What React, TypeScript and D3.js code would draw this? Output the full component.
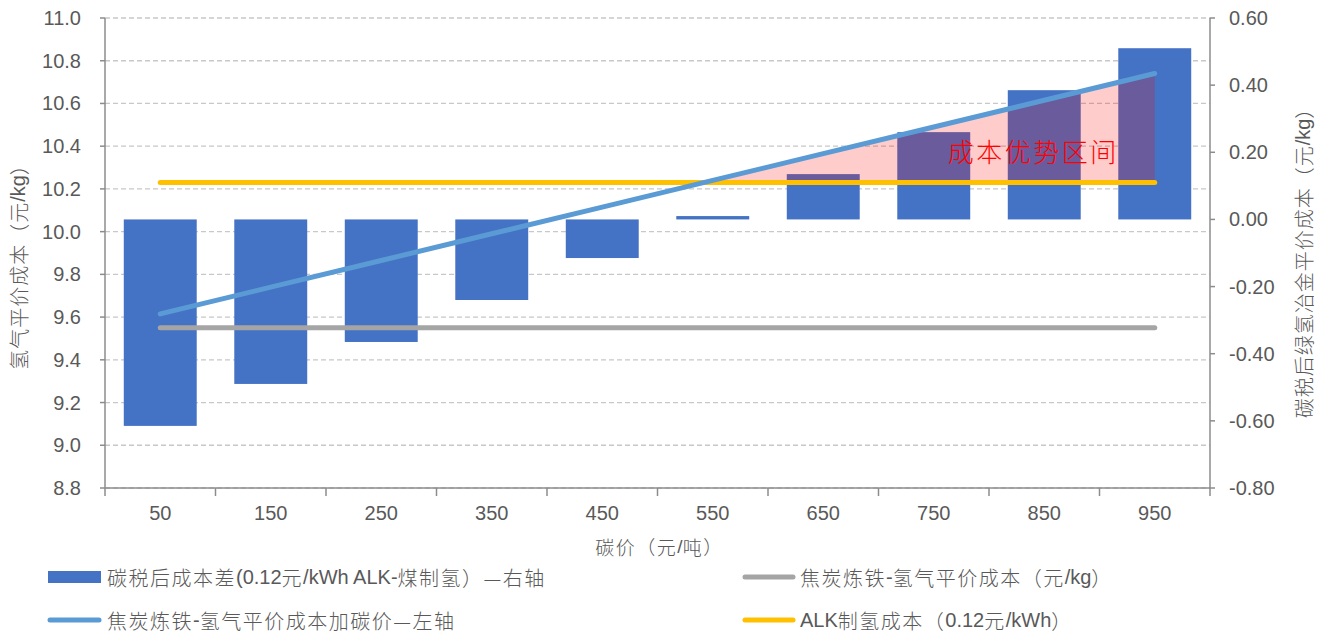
import React from "react";
import * as d3 from "d3";

// Carbon price categories (元/吨)
const carbonPrices = ["50", "150", "250", "350", "450", "550", "650", "750", "850", "950"];
// 碳税后成本差 (right axis, 元/kg)
const costGap = [-0.615, -0.49, -0.365, -0.24, -0.115, 0.01, 0.135, 0.26, 0.385, 0.51];
// 焦炭炼铁-氢气平价成本加碳价 (left axis, 元/kg)
const parityWithCarbon = [9.615, 9.74, 9.865, 9.99, 10.115, 10.24, 10.365, 10.49, 10.615, 10.74];
// 焦炭炼铁-氢气平价成本 (left axis, 元/kg)
const parityCost = [9.55, 9.55, 9.55, 9.55, 9.55, 9.55, 9.55, 9.55, 9.55, 9.55];
// ALK制氢成本 (0.12元/kWh, left axis)
const alkCost = [10.23, 10.23, 10.23, 10.23, 10.23, 10.23, 10.23, 10.23, 10.23, 10.23];

const leftTicks = [8.8, 9.0, 9.2, 9.4, 9.6, 9.8, 10.0, 10.2, 10.4, 10.6, 10.8, 11.0];
const rightTicks = [-0.8, -0.6, -0.4, -0.2, 0, 0.2, 0.4, 0.6];

const W = 1325;
const H = 635;
const PL = 105;
const PR = 1210;
const PT = 18;
const PB = 488;

const NUM_FONT = "'Liberation Sans', Arial, 'Noto Sans CJK SC', sans-serif";
const CJK_FONT = "'Noto Sans CJK SC', sans-serif";
const TEXT_COLOR = "#595959";
const AXIS_COLOR = "#8c8c8c";
const BAR_COLOR = "#4472C4";
const BLUE_LINE = "#5B9BD5";
const GRAY_LINE = "#A5A5A5";
const YELLOW_LINE = "#FFC000";

const CJK_RE = /[\u2014\u3000-\u303f\u4e00-\u9fff\uff00-\uffef]+/g;

// Renders a string with extra spacing on its CJK runs only
function MixedText(props: {
  text: string;
  x: number;
  y: number;
  size: number;
  cjkSpacing: number;
  anchor?: string;
  transform?: string;
  fill?: string;
}) {
  const { text, x, y, size, cjkSpacing, anchor, transform, fill } = props;
  const parts: { s: string; cjk: boolean }[] = [];
  let last = 0;
  text.replace(CJK_RE, (m: string, idx: number) => {
    if (idx > last) parts.push({ s: text.slice(last, idx), cjk: false });
    parts.push({ s: m, cjk: true });
    last = idx + m.length;
    return m;
  });
  if (last < text.length) parts.push({ s: text.slice(last), cjk: false });
  return (
    <text
      x={x}
      y={y}
      fontSize={size}
      fontFamily={NUM_FONT}
      fill={fill ?? TEXT_COLOR}
      textAnchor={anchor ?? "start"}
      dominantBaseline="central"
      transform={transform}
    >
      {parts.map((p, i) => (
        <tspan
          key={i}
          letterSpacing={p.cjk ? cjkSpacing : 0}
          fontFamily={p.cjk ? CJK_FONT : NUM_FONT}
          fontWeight={p.cjk ? 300 : 400}
        >
          {p.s}
        </tspan>
      ))}
    </text>
  );
}

export default function App() {
  const x = d3
    .scaleBand<string>()
    .domain(carbonPrices)
    .range([PL, PR])
    .paddingInner(0.34)
    .paddingOuter(0.17);
  const step = x.step();
  const cx = (i: number) => (x(carbonPrices[i]) as number) + x.bandwidth() / 2;

  const yL = d3.scaleLinear().domain([8.8, 11]).range([PB, PT]);
  const yR = d3.scaleLinear().domain([-0.8, 0.6]).range([PB, PT]);

  const lineGen = d3
    .line<number>()
    .x((_, i) => cx(i))
    .y((d) => yL(d));

  // Shaded advantage region: where the carbon-adjusted parity cost exceeds ALK cost
  type Pt = { x: number; top: number; base: number };
  const areaPts: Pt[] = [];
  for (let i = 0; i < carbonPrices.length; i++) {
    const diff = parityWithCarbon[i] - alkCost[i];
    if (i > 0) {
      const prev = parityWithCarbon[i - 1] - alkCost[i - 1];
      if (prev < 0 && diff >= 0) {
        const t = -prev / (diff - prev);
        const base = alkCost[i - 1] + t * (alkCost[i] - alkCost[i - 1]);
        areaPts.push({ x: cx(i - 1) + t * (cx(i) - cx(i - 1)), top: base, base });
      }
    }
    if (diff >= 0) areaPts.push({ x: cx(i), top: parityWithCarbon[i], base: alkCost[i] });
  }
  const areaGen = d3
    .area<Pt>()
    .x((d) => d.x)
    .y0((d) => yL(d.base))
    .y1((d) => yL(d.top));

  const boundaries = d3.range(carbonPrices.length + 1).map((k) => PL + k * step);

  return (
    <svg
      width={W}
      height={H}
      style={{ position: "absolute", left: 0, top: 0, background: "#fff" }}
    >
      <rect x={0} y={0} width={W} height={H} fill="#fff" />

      {/* gridlines */}
      {leftTicks.map((t) => (
        <line
          key={"g" + t}
          x1={PL}
          x2={PR}
          y1={yL(t)}
          y2={yL(t)}
          stroke="#c8c8c8"
          strokeWidth={1.3}
          strokeDasharray="5,3"
        />
      ))}

      {/* bars */}
      {costGap.map((v, i) => (
        <rect
          key={"b" + i}
          x={x(carbonPrices[i])}
          width={x.bandwidth()}
          y={yR(Math.max(0, v))}
          height={Math.abs(yR(v) - yR(0))}
          fill={BAR_COLOR}
        />
      ))}

      {/* advantage region */}
      <path d={areaGen(areaPts) ?? ""} fill="#ff0000" fillOpacity={0.2} />

      {/* lines */}
      <path
        d={lineGen(parityCost) ?? ""}
        fill="none"
        stroke={GRAY_LINE}
        strokeWidth={5}
        strokeLinecap="round"
      />
      <path
        d={lineGen(alkCost) ?? ""}
        fill="none"
        stroke={YELLOW_LINE}
        strokeWidth={5}
        strokeLinecap="round"
      />
      <path
        d={lineGen(parityWithCarbon) ?? ""}
        fill="none"
        stroke={BLUE_LINE}
        strokeWidth={5}
        strokeLinecap="round"
      />

      {/* axes */}
      <line x1={PL} x2={PL} y1={PT} y2={PB} stroke={AXIS_COLOR} strokeWidth={1.5} />
      <line x1={PR} x2={PR} y1={PT} y2={PB} stroke={AXIS_COLOR} strokeWidth={1.5} />
      <line x1={PL} x2={PR} y1={PB} y2={PB} stroke={AXIS_COLOR} strokeWidth={1.5} />

      {leftTicks.map((t) => (
        <g key={"lt" + t}>
          <line x1={PL - 5} x2={PL} y1={yL(t)} y2={yL(t)} stroke={AXIS_COLOR} strokeWidth={1.5} />
          <text
            x={PL - 24}
            y={yL(t)}
            textAnchor="end"
            dominantBaseline="central"
            fontSize={20}
            fontFamily={NUM_FONT}
            fill={TEXT_COLOR}
          >
            {t.toFixed(1)}
          </text>
        </g>
      ))}

      {rightTicks.map((t) => (
        <g key={"rt" + t}>
          <line x1={PR} x2={PR + 5} y1={yR(t)} y2={yR(t)} stroke={AXIS_COLOR} strokeWidth={1.5} />
          <text
            x={PR + 19}
            y={yR(t)}
            textAnchor="start"
            dominantBaseline="central"
            fontSize={20}
            fontFamily={NUM_FONT}
            fill={TEXT_COLOR}
          >
            {t.toFixed(2)}
          </text>
        </g>
      ))}

      {boundaries.map((bx, k) => (
        <line key={"xt" + k} x1={bx} x2={bx} y1={PB} y2={PB + 8} stroke={AXIS_COLOR} strokeWidth={1.5} />
      ))}
      {carbonPrices.map((c, i) => (
        <text
          key={"xl" + c}
          x={cx(i)}
          y={PB + 25}
          textAnchor="middle"
          dominantBaseline="central"
          fontSize={20}
          fontFamily={NUM_FONT}
          fill={TEXT_COLOR}
        >
          {c}
        </text>
      ))}

      {/* axis titles */}
      <MixedText
        text="碳价（元/吨）"
        x={(PL + PR) / 2 + 2}
        y={546}
        size={19}
        cjkSpacing={1.5}
        anchor="middle"
      />
      <MixedText
        text="氢气平价成本（元/kg）"
        x={0}
        y={0}
        size={20}
        cjkSpacing={1}
        anchor="middle"
        transform={`translate(18,262) rotate(-90)`}
      />
      <MixedText
        text="碳税后绿氢冶金平价成本（元/kg）"
        x={0}
        y={0}
        size={20}
        cjkSpacing={1}
        anchor="middle"
        transform={`translate(1303,258) rotate(-90)`}
      />

      {/* region label */}
      <text
        x={cx(8) - 11}
        y={yL(10.38)}
        textAnchor="middle"
        dominantBaseline="central"
        fontSize={26}
        letterSpacing={2.5}
        fontFamily={CJK_FONT}
        fontWeight={300}
        fill="#ff0000"
      >
        成本优势区间
      </text>

      {/* legend */}
      <rect x={48} y={571} width={53} height={12} fill={BAR_COLOR} />
      <MixedText text="碳税后成本差(0.12元/kWh ALK-煤制氢）—右轴" x={107} y={577} size={20} cjkSpacing={1.5} />

      <line x1={745} x2={793} y1={577} y2={577} stroke={GRAY_LINE} strokeWidth={5} strokeLinecap="round" />
      <MixedText text="焦炭炼铁-氢气平价成本（元/kg）" x={800} y={577} size={20} cjkSpacing={1.5} />

      <line x1={50} x2={99} y1={620} y2={620} stroke={BLUE_LINE} strokeWidth={5} strokeLinecap="round" />
      <MixedText text="焦炭炼铁-氢气平价成本加碳价—左轴" x={107} y={620} size={20} cjkSpacing={1.5} />

      <line x1={745} x2={793} y1={620} y2={620} stroke={YELLOW_LINE} strokeWidth={5} strokeLinecap="round" />
      <MixedText text="ALK制氢成本（0.12元/kWh）" x={800} y={620} size={20} cjkSpacing={1.5} />
    </svg>
  );
}
